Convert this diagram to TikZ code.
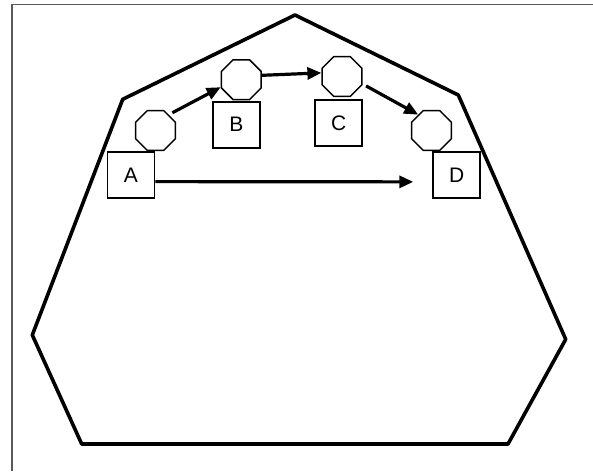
\documentclass[tikz,border=0pt]{standalone}
\usepackage{fontspec}
\setmainfont{Liberation Sans}
\usetikzlibrary{shapes.geometric,arrows.meta}
\begin{document}
\begin{tikzpicture}[x=1pt,y=-1pt,
  octa/.style={draw=black, line width=1.5pt, regular polygon, regular polygon sides=8, minimum size=43pt, inner sep=0pt},
  lbox/.style={draw=black, line width=1.8pt, minimum width=47pt, minimum height=46pt, inner sep=0pt, font=\fontsize{21}{21}\selectfont},
  arr/.style={line width=3.2pt, -{Triangle[length=14pt,width=12pt]}},
  hull/.style={line width=3.6pt, line join=round}
]
\useasboundingbox (0,0) rectangle (593,471);
\fill[white] (0,0) rectangle (593,471);
% frame
\draw[line width=1.5pt, black!65] (12,471) -- (12,4.5) -- (593,4.5);
% outer polygon
\draw[hull] (295,15) -- (458.3,95) -- (565.7,339.3) -- (508,444) -- (81.7,444) -- (32.3,335) -- (122.7,99.3) -- cycle;
% octagons
\node[octa] (oA) at (155.5,130.5) {};
\node[octa] (oB) at (241.3,79.7) {};
\node[octa] (oC) at (342,76.5) {};
\node[octa] (oD) at (431.5,130.5) {};
% boxes
\node[lbox] (A) at (131,175) {A};
\node[lbox] (B) at (236.3,124.7) {B};
\node[lbox] (C) at (338.7,123) {C};
\node[lbox] (D) at (456.7,175.3) {D};
% arrows
\draw[arr, shorten <=4pt] (oA.50) -- (oB.200);
\draw[arr] (oB.12) -- (oC.170);
\draw[arr, shorten <=4pt] (oC.-20) -- (oD.130);
\draw[arr, shorten >=19pt] ([yshift=-6.6pt]A.east) -- ([yshift=-6.6pt]D.west);
\end{tikzpicture}
\end{document}
